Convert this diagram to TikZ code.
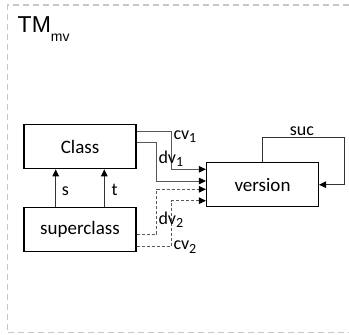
\documentclass[tikz,border=0pt]{standalone}
\usepackage{fontspec}
\setmainfont{Carlito}
\newfontfamily\arialf{Liberation Sans}
\usetikzlibrary{arrows.meta}
\newcommand\lsub[1]{\raisebox{-3.5pt}{\fontsize{14}{15}\selectfont #1}}
\begin{document}
\begin{tikzpicture}[x=1pt,y=-1pt,
  box/.style={draw=black,line width=1.1pt,minimum width=112pt,minimum height=44pt,inner sep=0pt,font=\fontsize{19}{22}\selectfont},
  conn/.style={draw=black!65,line width=0.9pt},
  dconn/.style={conn,dash pattern=on 3pt off 2pt},
  tip/.style={-{Triangle[length=7pt,width=6.5pt,fill=black,color=black]}},
  lbl/.style={inner sep=0pt,font=\fontsize{18}{21}\selectfont}]
\useasboundingbox (0,0) rectangle (349,335);
% frame
\draw[black!22,line width=1.4pt,dash pattern=on 6pt off 4pt] (349,5) -- (7.5,5) -- (7.5,332.5) -- (349,332.5);
\node[anchor=base west,inner sep=0pt,font=\arialf\fontsize{23}{26}\selectfont] (title) at (17.5,32.3) {TM\raisebox{-9.4pt}{\fontsize{14}{16}\selectfont mv}};
% boxes
\node[box] (cls) at (80,146.75) {Class};
\node[box] (sup) at (80,229.5) {superclass};
\node[box] (ver) at (262.5,184.7) {version};
% s, t
\draw[conn,black!80,tip] (sup.north -| 55.7,0) -- (cls.south -| 55.7,0);
\draw[conn,black!80,tip] (sup.north -| 104.3,0) -- (cls.south -| 104.3,0);
\node[lbl,anchor=base west] (s) at (61.7,195) {s};
\node[lbl,anchor=base west] (t) at (111.5,195) {t};
% solid connectors
\draw[conn,tip] (cls.east |- 0,131.5) -| (171.5,169.3) -- (ver.west |- 0,169.3);
\draw[conn,tip] (cls.east |- 0,142.7) -| (156.6,181) -- (ver.west |- 0,181);
% dashed connectors
\draw[dconn,tip] (sup.east |- 0,234.3) -| (156.6,189.3) -- (ver.west |- 0,189.3);
\draw[dconn,tip] (sup.east |- 0,246) -| (171.5,200.7) -- (ver.west |- 0,200.7);
\node[lbl,anchor=base west] (cv1) at (173.3,139.3) {cv\lsub{1}};
\node[lbl,anchor=base west] (dv1) at (158.3,163) {dv\lsub{1}};
\node[lbl,anchor=base west] (dv2) at (158.3,224) {dv\lsub{2}};
\node[lbl,anchor=base west] (cv2) at (173.3,249.5) {cv\lsub{2}};
% suc loop
\draw[conn,black!80,tip] (ver.north) |- (344,137.7) |- (ver.east);
\node[lbl,anchor=base] (suc) at (302,135) {suc};
\end{tikzpicture}
\end{document}
